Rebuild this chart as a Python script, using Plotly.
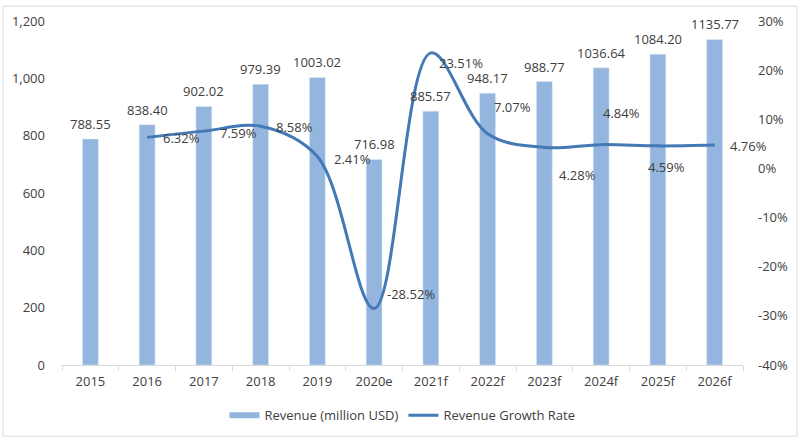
import plotly.graph_objects as go

categories = ["2015", "2016", "2017", "2018", "2019", "2020e", "2021f",
              "2022f", "2023f", "2024f", "2025f", "2026f"]
revenue = [788.55, 838.40, 902.02, 979.39, 1003.02, 716.98, 885.57,
           948.17, 988.77, 1036.64, 1084.20, 1135.77]
growth = [None, 6.32, 7.59, 8.58, 2.41, -28.52, 23.51, 7.07, 4.28, 4.84, 4.59, 4.76]

left_ticks = [0, 200, 400, 600, 800, 1000, 1200]
left_ticktext = ["0", "200", "400", "600", "800", "1,000", "1,200"]
right_ticks = [-40, -30, -20, -10, 0, 10, 20, 30]
right_ticktext = ["-40%", "-30%", "-20%", "-10%", "0%", "10%", "20%", "30%"]

BAR = "#93b5de"
LINE = "#4379b4"
TXT = "#404040"
FONT = "Open Sans"

# label offsets for growth labels (px): style only
g_xshift = [0, 14, 14, 13, 15, 11, 6, 4, 13, 0, -12, 13]
g_yshift = [0, -1, -2, -1, -2, 15, -10, 27, -28, 32, -21, -1]

fig = go.Figure()
fig.add_trace(go.Bar(x=categories, y=revenue, marker_color=BAR, showlegend=False,
                     name="Revenue (million USD)"))
# legend-only entry with a wide flat swatch
fig.add_trace(go.Scatter(x=[categories[0]], y=[None], mode="lines", name="Revenue (million USD)",
                         line=dict(color=BAR, width=6)))
fig.add_trace(go.Scatter(x=categories, y=growth, mode="lines", yaxis="y2",
                         name="Revenue Growth Rate",
                         line=dict(color=LINE, width=3, shape="spline", smoothing=1.0)))

annotations = []
for i, v in enumerate(revenue):
    annotations.append(dict(x=i, y=v, xref="x", yref="y", text=f"{v:.2f}",
                            showarrow=False, xanchor="center", yanchor="middle",
                            yshift=15, font=dict(family=FONT, size=13, color=TXT)))
for i, g in enumerate(growth):
    if g is None:
        continue
    annotations.append(dict(x=i, y=g, xref="x", yref="y2", text=f"{g:.2f}%",
                            showarrow=False, xanchor="left", yanchor="middle",
                            xshift=g_xshift[i], yshift=g_yshift[i],
                            font=dict(family=FONT, size=13, color=TXT)))

L, R, T, B = 62, 57, 18, 76
W, H = 800, 442
pw, ph = W - L - R, H - T - B

fig.update_layout(
    width=W, height=H,
    margin=dict(l=L, r=R, t=T, b=B, pad=0),
    paper_bgcolor="white", plot_bgcolor="white",
    font=dict(family=FONT, size=13, color=TXT),
    bargap=0.72,
    xaxis=dict(type="category", categoryorder="array", categoryarray=categories,
               range=[-0.5, len(categories) - 0.5],
               showgrid=False, showline=True, linecolor="#d9d9d9",
               linewidth=1, ticks="outside", tickson="boundaries", ticklen=5,
               tickcolor="#d9d9d9", tickfont=dict(size=13, color=TXT),
               tickangle=0, ticklabelstandoff=4, zeroline=False),
    yaxis=dict(range=[0, 1200], tickvals=left_ticks, ticktext=left_ticktext,
               showgrid=False, zeroline=False, showline=False,
               ticks="", ticklabelstandoff=16, tickfont=dict(size=13, color=TXT)),
    yaxis2=dict(range=[-40, 30], tickvals=right_ticks, ticktext=right_ticktext,
                overlaying="y", side="right", showgrid=False, zeroline=False,
                showline=False, ticks="", ticklabelstandoff=14,
                tickfont=dict(size=13, color=TXT)),
    legend=dict(orientation="h", x=0.5, xanchor="center", y=-(B - 25) / ph,
                yanchor="middle", font=dict(size=13, color=TXT),
                bgcolor="rgba(0,0,0,0)"),
    annotations=annotations,
    shapes=[dict(type="rect", xref="paper", yref="paper", layer="below",
                 x0=(3 - L) / pw, x1=(797 - L) / pw,
                 y0=(T + ph - 438) / ph, y1=(T + ph - 3) / ph,
                 line=dict(color="#d9d9d9", width=1), fillcolor="rgba(0,0,0,0)")],
)

fig.write_html("out.html", config={"displayModeBar": False},
               post_script="document.body.style.margin='0';document.body.style.overflow='hidden';")
